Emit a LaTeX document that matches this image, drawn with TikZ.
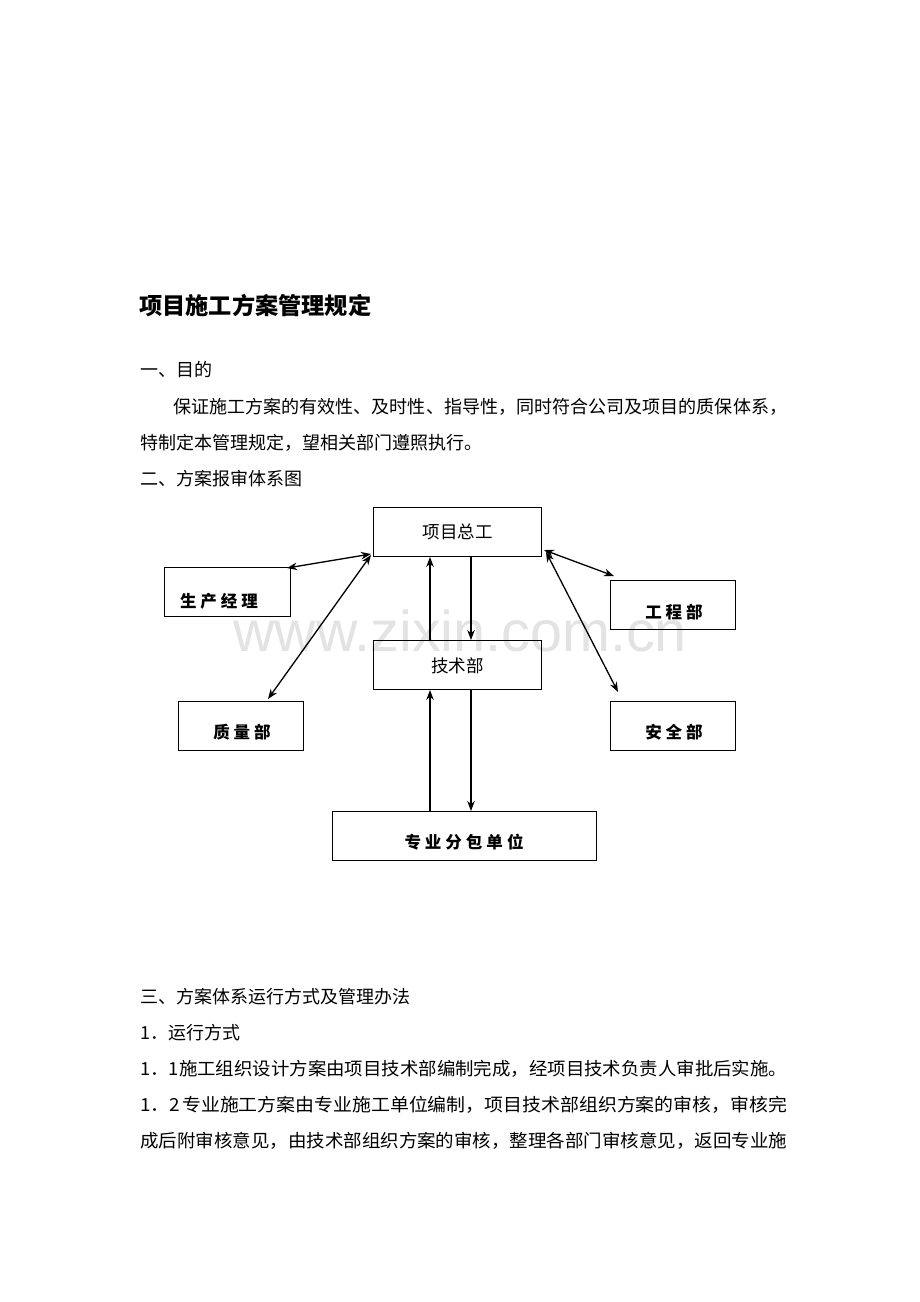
\documentclass[tikz,border=0pt]{standalone}
\usepackage{fontspec}
\newfontfamily\cjk{Noto Sans CJK SC}
\newfontfamily\wmfont{Liberation Sans}
\usetikzlibrary{arrows.meta,calc}
\tikzset{
  box/.style={draw, line width=1pt, inner sep=0pt},
  body/.style={anchor=west, inner sep=0pt, font=\cjk\fontsize{18}{20}\selectfont},
  btxt/.style={inner sep=0pt, font=\cjk\bfseries\fontsize{16.5}{18}\selectfont},
  rtxt/.style={inner sep=0pt, font=\cjk\fontsize{17.5}{20}\selectfont},
  arr/.style={line width=1.3pt, -{Stealth[length=10pt,width=7.5pt]}},
  darr/.style={line width=1.3pt, {Stealth[length=10pt,width=7.5pt]}-{Stealth[length=10pt,width=7.5pt]}}
}
\newcommand{\gapz}{\hspace{4pt}}
\newcommand{\fitw}[2]{\resizebox{#1}{\height}{#2}}
\begin{document}
\begin{tikzpicture}[x=1pt,y=-1pt]
\useasboundingbox[fill=white] (0,0) rectangle (920,1302);

% watermark
\node[inner sep=0pt, text=black!11, font=\wmfont\fontsize{57.5}{60}\selectfont] (wm) at (460,631) {www.zixin.com.cn};

% text above
\node[anchor=west, inner sep=0pt, font=\cjk\bfseries\fontsize{23.2}{26}\selectfont] (title) at (139,306) {项目施工方案管理规定};
\node[body] (h1) at (140,370) {一、目的};
\node[body] (p1) at (173,407) {\fitw{614pt}{保证施工方案的有效性、及时性、指导性，同时符合公司及项目的质保体系，}};
\node[body] (p2) at (140,443) {特制定本管理规定，望相关部门遵照执行。};
\node[body] (h2) at (140,479) {二、方案报审体系图};

% boxes
\node[box, minimum width=168pt, minimum height=49pt] (zg) at (457.5,532) {};
\node[rtxt] (zgt) at (457.5,532) {项目总工};
\node[box, minimum width=126pt, minimum height=49pt] (sc) at (227.5,592) {};
\node[btxt] (sct) at (219,601) {生\gapz 产\gapz 经\gapz 理};
\node[box, minimum width=125pt, minimum height=49pt] (gc) at (673,605) {};
\node[btxt] (gct) at (674,612) {工\gapz 程\gapz 部};
\node[box, minimum width=168pt, minimum height=49pt] (js) at (457.5,665) {};
\node[rtxt] (jst) at (457.5,666) {技术部};
\node[box, minimum width=125pt, minimum height=49pt] (zl) at (241,726) {};
\node[btxt] (zlt) at (242,732) {质\gapz 量\gapz 部};
\node[box, minimum width=125pt, minimum height=49pt] (aq) at (673,726) {};
\node[btxt] (aqt) at (674,732) {安\gapz 全\gapz 部};
\node[box, minimum width=264pt, minimum height=49pt] (fb) at (464.5,836) {};
\node[btxt] (fbt) at (464,842) {专\gapz 业\gapz 分\gapz 包\gapz 单\gapz 位};

% connectors
\draw[darr] ($(sc.north east)+(-4,1)$) -- ($(zg.south west)+(-2,-3)$);
\draw[darr] ($(zl.north)+(27,-2)$) -- ($(zg.south west)+(-2,-2)$);
\draw[darr] ($(zg.south east)+(2,-7)$) -- ($(gc.north west)+(4,-4)$);
\draw[darr] ($(zg.south east)+(4,-5)$) -- ($(aq.north west)+(8,-9)$);
\draw[arr] (js.north -| 430,0) -- (zg.south -| 430,0);
\draw[arr] (zg.south -| 471,0) -- (js.north -| 471,0);
\draw[arr] (fb.north -| 430,0) -- (js.south -| 430,0);
\draw[arr] (js.south -| 471,0) -- (fb.north -| 471,0);

% text below
\node[body] (h3) at (140,997) {三、方案体系运行方式及管理办法};
\node[body] (q1) at (140,1033) {1．运行方式};
\node[body] (q2) at (140,1069) {\fitw{647pt}{1．1施工组织设计方案由项目技术部编制完成，经项目技术负责人审批后实施。}};
\node[body] (q3) at (140,1105) {\fitw{647pt}{1．2\hspace{2pt}专业施工方案由专业施工单位编制，项目技术部组织方案的审核，审核完}};
\node[body] (q4) at (140,1141) {\fitw{647pt}{成后附审核意见，由技术部组织方案的审核，整理各部门审核意见，返回专业施}};
\end{tikzpicture}
\end{document}
